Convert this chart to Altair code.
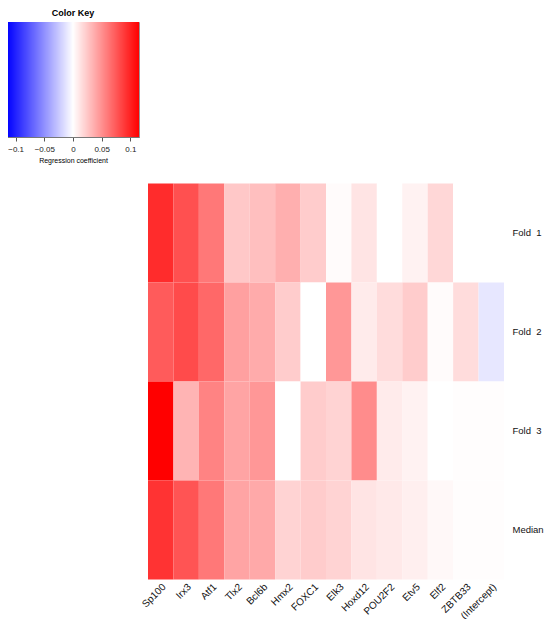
import altair as alt
import pandas as pd
import numpy as np

genes = ["Sp100", "Irx3", "Atf1", "Tlx2", "Bcl6b", "Hmx2", "FOXC1", "Elk3",
         "Hoxd12", "POU2F2", "Etv5", "Elf2", "ZBTB33", "(Intercept)"]
rows = ["Fold\u00a0\u00a01", "Fold\u00a0\u00a02", "Fold\u00a0\u00a03", "Median"]

fold1 = [0.095, 0.079, 0.061, 0.025, 0.029, 0.036, 0.023, 0.002, 0.012, 0.0, 0.006, 0.018, 0.0, 0.0]
fold2 = [0.074, 0.081, 0.068, 0.043, 0.038, 0.023, 0.0, 0.047, 0.009, 0.016, 0.023, 0.002, 0.016, -0.011]
fold3 = [0.115, 0.034, 0.056, 0.041, 0.047, 0.0, 0.023, 0.020, 0.052, 0.009, 0.006, 0.0, 0.001, 0.001]
median = [0.092, 0.077, 0.061, 0.041, 0.039, 0.020, 0.023, 0.020, 0.012, 0.010, 0.007, 0.003, 0.001, 0.001]

key_ticks = [-0.1, -0.05, 0, 0.05, 0.1]
key_min, key_max = -0.115, 0.115
key_title = ["Color Key"]

records = []
for r, vals in zip(rows, [fold1, fold2, fold3, median]):
    for g, v in zip(genes, vals):
        records.append({"gene": g, "row": r, "value": v})
df = pd.DataFrame(records)

color_scale = alt.Scale(domain=[key_min, 0, key_max],
                        range=["#0000ff", "#ffffff", "#ff0000"],
                        interpolate="rgb")

FONT = "Liberation Sans"

n = 132
edges = np.linspace(key_min, key_max, n + 1)
key_df = pd.DataFrame({"x0": edges[:-1], "x1": edges[1:],
                       "v": (edges[:-1] + edges[1:]) / 2})

key_rect = alt.Chart(key_df).mark_rect(strokeWidth=0).encode(
    x=alt.X("x0:Q", scale=alt.Scale(domain=[key_min, key_max], nice=False, zero=False),
            axis=alt.Axis(values=key_ticks, format="~g", title="Regression coefficient",
                          titleFontSize=7, titleFontWeight="normal", titleFont=FONT,
                          titlePadding=3, labelFontSize=8, labelFont=FONT,
                          labelColor="#222", tickSize=4, tickColor="#555",
                          domainColor="#777", grid=False, labelPadding=4)),
    x2="x1:Q",
    color=alt.Color("v:Q", scale=color_scale, legend=None),
)

key_text = alt.Chart(pd.DataFrame({"t": key_title})).mark_text(
    fontSize=9, font=FONT, fontWeight="bold", baseline="middle", align="center"
).encode(x=alt.value(66), y=alt.value(-9), text="t:N")

key = alt.layer(key_rect, key_text).properties(
    width=132, height=115,
    view=alt.ViewBackground(stroke="#999999", strokeWidth=1),
)

spacer = alt.Chart(pd.DataFrame({"a": [0]})).mark_text(text="").encode(
    x=alt.value(0), y=alt.value(0)
).properties(width=141, height=396)

heat = alt.Chart(df).mark_rect(strokeWidth=0).encode(
    x=alt.X("gene:N", sort=genes, scale=alt.Scale(paddingInner=0, paddingOuter=0),
            axis=alt.Axis(title=None, labelAngle=-45, labelFontSize=10, labelFont=FONT,
                          labelColor="#111", ticks=False, domain=False, labelPadding=2)),
    y=alt.Y("row:N", sort=rows, scale=alt.Scale(paddingInner=0, paddingOuter=0),
            axis=alt.Axis(title=None, orient="right", labelFontSize=9.5, labelFont=FONT,
                          labelColor="#111", ticks=False, domain=False, labelPadding=8)),
    color=alt.Color("value:Q", scale=color_scale, legend=None),
).properties(width=356, height=396)

bottom = alt.hconcat(spacer, heat, spacing=0, bounds="flush")

chart = alt.vconcat(key, bottom, spacing=12.5).properties(
    padding={"top": 0, "bottom": 0, "left": -2, "right": 0},
).configure_view(stroke="transparent").configure_concat(spacing=0)

chart.save("out.html", embed_options={"renderer": "svg", "actions": False})
